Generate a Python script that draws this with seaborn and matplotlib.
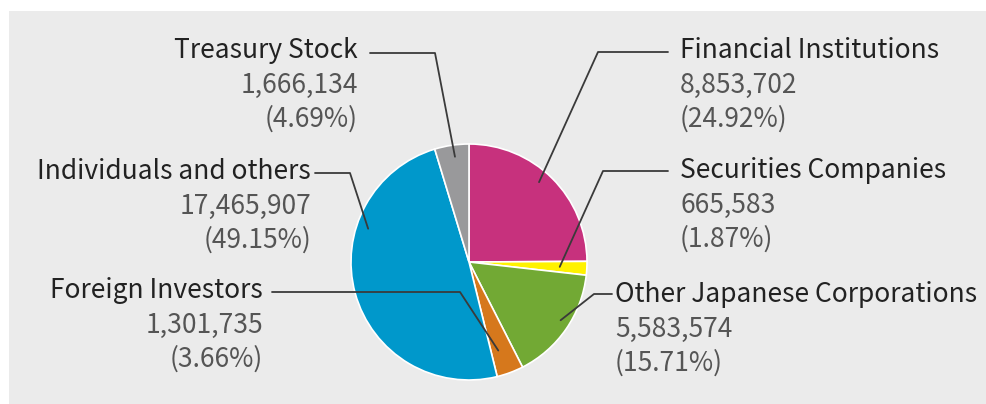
import matplotlib.pyplot as plt
from matplotlib.patches import Rectangle
from matplotlib.lines import Line2D
import seaborn as sns
import numpy as np

categories = [
    "Financial Institutions",
    "Securities Companies",
    "Other Japanese Corporations",
    "Foreign Investors",
    "Individuals and others",
    "Treasury Stock",
]
shares = [8853702, 665583, 5583574, 1301735, 17465907, 1666134]
share_labels = ["8,853,702", "665,583", "5,583,574", "1,301,735", "17,465,907", "1,666,134"]
pct_labels = ["(24.92%)", "(1.87%)", "(15.71%)", "(3.66%)", "(49.15%)", "(4.69%)"]

colors = ["#c7317d", "#fff200", "#72a934", "#d6781c", "#0098cb", "#99999b"]

# label layout in pixels (x, y from top), alignment, leader polyline, anchor inside wedge
W, H = 986, 404
layout = [
    dict(x=680, y=51, ha="left", path=[(668, 52), (598, 52)], anchor=(0.46, 0.9)),
    dict(x=680, y=171, ha="left", path=[(668, 171), (603, 171)], anchor=(0.5, 0.77)),
    dict(x=615, y=295, ha="left", path=[(612, 294), (594, 294)], anchor=(0.46, 0.92)),
    dict(x=263, y=291, ha="right", path=[(272, 292), (460, 292)], anchor=(0.66, 0.79)),
    dict(x=311, y=172, ha="right", path=[(315, 173), (350, 173)], anchor=(0.69, 0.9)),
    dict(x=358, y=51, ha="right", path=[(370, 53), (435, 53)], anchor=(0.55, 0.9)),
]

sns.set_style("white")
plt.rcParams["font.family"] = ["Noto Sans CJK JP", "DejaVu Sans"]

fig = plt.figure(figsize=(W / 100, H / 100), dpi=100)
fig.patch.set_facecolor("white")
fig.patches.append(Rectangle((9 / W, 0), 1, 1 - 11 / H, transform=fig.transFigure,
                             facecolor="#ebebeb", edgecolor="none", zorder=-5))

cx, cy, r = 469, 262, 118
ax = fig.add_axes([(cx - r) / W, (H - cy - r) / H, 2 * r / W, 2 * r / H])
ax.set_facecolor("none")
ax.set_zorder(1)
wedges, _ = ax.pie(shares, colors=colors, startangle=90, counterclock=False,
                   wedgeprops=dict(edgecolor="white", linewidth=1.2))
ax.set_xlim(-1, 1)
ax.set_ylim(-1, 1)
ax.axis("off")

to_fig = ax.transData + fig.transFigure.inverted()
for w, name, num, pct, lay in zip(wedges, categories, share_labels, pct_labels, layout):
    f, rf = lay["anchor"]
    # clockwise pie: measure the fraction from theta2 going clockwise
    ang = np.deg2rad(w.theta2 - f * (w.theta2 - w.theta1))
    ax_pt = to_fig.transform((rf * np.cos(ang), rf * np.sin(ang)))
    pts = [(px / W, 1 - py / H) for px, py in lay["path"]] + [tuple(ax_pt)]
    xs, ys = zip(*pts)
    fig.add_artist(Line2D(xs, ys, transform=fig.transFigure, color="#3a3a3a", lw=1.3, zorder=5))
    tx = lay["x"] / W
    for i, (txt, col) in enumerate([(name, "#222222"), (num, "#555555"), (pct, "#555555")]):
        ty = 1 - (lay["y"] + i * 34) / H
        fig.text(tx, ty, txt, ha=lay["ha"], va="center", fontsize=19, color=col)

fig.savefig("out.png", dpi=100)
